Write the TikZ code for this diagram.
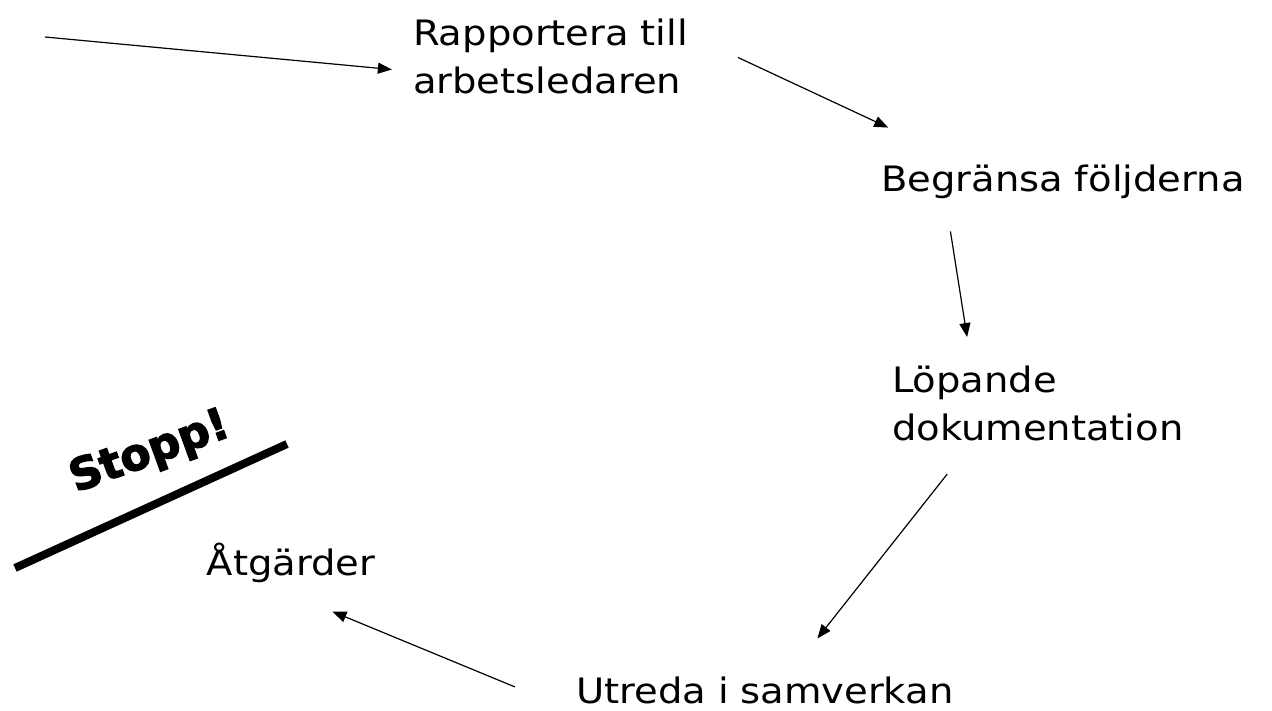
\documentclass[tikz,border=0pt]{standalone}
\usepackage{fontspec}
\setmainfont{DejaVu Sans}[FakeStretch=1.1]
\newfontfamily\stoppfont{DejaVu Sans Bold}[FakeBold=3]
\usetikzlibrary{arrows.meta}
\tikzstyle{phase}=[inner sep=0pt,font=\fontsize{35}{48}\selectfont]
\tikzstyle{flow}=[-{Triangle[length=14pt,width=11pt]},line width=1.2pt]

\begin{document}
\begin{tikzpicture}[x=1pt,y=-1pt]
                    \useasboundingbox (0,0) rectangle (1272,711);
                    \node (rapp) at (560,56) [phase,text width=294pt,align=left,minimum height=82pt] {Rapportera till\\arbetsledaren};
                    \node (beg) at (1063,182) [phase,text width=374pt,align=center,minimum height=45pt] {Begränsa följderna};
                    \node (lop) at (1040,403) [phase,text width=296pt,align=left,minimum height=90pt] {Löpande\\dokumentation};
                    \node (utr) at (765,690) [phase,text width=400pt,align=center,minimum height=43pt] {Utreda i samverkan};
                    \node (atg) at (291,563) [phase,text width=177pt,align=center,minimum height=57pt] {Åtgärder};
                    \node (stopp) at (150,453) [rotate=20,inner sep=0pt,font=\stoppfont\fontsize{44}{50}\selectfont] {Stopp!};
                    \coordinate (start) at (45,37);

                    \draw [line width=8pt] (15,568) -- (287,444);
                    \draw [flow,shorten >=21pt] (start) -- (rapp.186);
                    \draw [flow,shorten <=34pt,shorten >=75pt] (rapp.5) -- (beg.168);
                    \draw [flow,shorten <=27pt,shorten >=21pt] (beg.191) -- (lop.147);
                    \draw [flow,shorten <=33pt,shorten >=38pt] (lop.212) -- (utr.37);
                    \draw [flow,shorten <=54pt,shorten >=52pt] (utr.185) -- (atg.257);
                \end{tikzpicture}
\end{document}
